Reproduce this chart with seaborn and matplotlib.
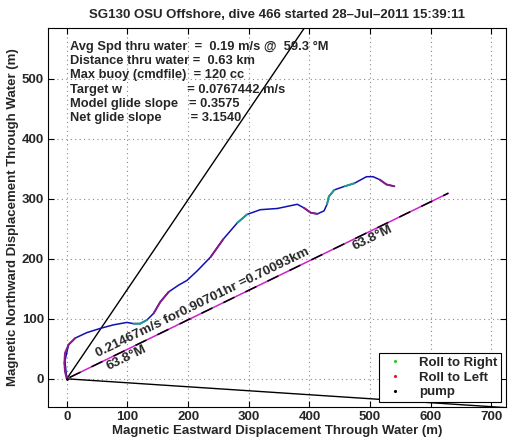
import numpy as np
import matplotlib
matplotlib.use("Agg")
import matplotlib.pyplot as plt
from matplotlib.lines import Line2D
import pandas as pd
import seaborn as sns

# dive summary
title = "SG130 OSU Offshore, dive 466 started 28\u2013Jul\u20132011 15:39:11"
info_lines = [
    "Avg Spd thru water  =  0.19 m/s @  59.3 \u00b0M",
    "Distance thru water =  0.63 km",
    "Max buoy (cmdfile)  = 120 cc",
    "Target w                  = 0.0767442 m/s",
    "Model glide slope   = 0.3575",
    "Net glide slope        = 3.1540",
]
heading_deg = 63.8
cone_half_deg = 30.0
cone_len_m = 1000.0
speed_ms = 0.21467
hours = 0.90701
dist_km = 0.70093

# track through water (m)
east = [0, -3, -4, -3, 3, 14, 33, 55, 77, 99, 110, 121, 132, 143, 154, 168, 184,
        198, 215, 237, 258, 281, 297, 319, 347, 380, 391, 402, 413, 424, 429,
        432, 441, 458, 474, 494, 505, 516, 527, 540]
north = [0, 12, 26, 43, 57, 68, 77, 84, 90, 94, 92, 92, 98, 109, 128, 145, 156,
         164, 180, 203, 233, 260, 274, 282, 284, 291, 285, 277, 275, 280, 291,
         304, 315, 321, 326, 337, 337, 332, 324, 321]
roll_right_idx = [[10, 11, 12], [21, 22], [30, 31, 32], [33, 34]]
roll_left_idx = [[0, 1, 2, 3, 4, 5], [13, 14, 15], [19, 20], [26, 27, 28], [37, 38, 39]]
pump_idx = [0]

track = pd.DataFrame({"east": east, "north": north})

sns.set_style("whitegrid")
plt.rcParams["font.family"] = ["Liberation Sans", "DejaVu Sans"]
plt.rcParams["font.weight"] = "bold"

fig = plt.figure(figsize=(5.14, 4.42), dpi=100)
ax = fig.add_axes([0.0934, 0.0792, 0.891, 0.8575])

# cone lines and heading line
for b in [heading_deg - cone_half_deg, heading_deg + cone_half_deg]:
    r = np.deg2rad(b)
    ax.plot([0, cone_len_m * np.sin(r)], [0, cone_len_m * np.cos(r)], color="black", lw=1)

r = np.deg2rad(heading_deg)
hx, hy = dist_km * 1000 * np.sin(r), dist_km * 1000 * np.cos(r)
ax.plot([0, hx], [0, hy], color="#d020d0", lw=1.1)
ax.plot([0, hx], [0, hy], color="black", lw=1.1, linestyle=(30, (8, 8)))

sns.lineplot(data=track, x="east", y="north", sort=False, ax=ax, color="#1010b0", lw=1.1)
for seg in roll_right_idx:
    ax.plot(track.east[seg], track.north[seg], color="#1a9a90", lw=1.4)
for seg in roll_left_idx:
    ax.plot(track.east[seg], track.north[seg], color="#8a1a8a", lw=1.4)
ax.plot(track.east[pump_idx], track.north[pump_idx], ".", color="black", ms=2)

# labels along the heading line
ang = np.degrees(np.arctan2(hy, hx))
ax.text(0.085 * hx, 0.085 * hy + 6, f"{speed_ms}m/s for{hours}hr ={dist_km}km",
        rotation=ang, rotation_mode="anchor", ha="left", va="bottom",
        fontsize=9.7, fontweight="bold", transform_rotates_text=True)
ax.text(0.1 * hx, 0.1 * hy - 2, f"{heading_deg}\u00b0M",
        rotation=ang, rotation_mode="anchor", ha="left", va="top",
        fontsize=9.7, fontweight="bold", transform_rotates_text=True)
ax.text(0.745 * hx, 0.745 * hy - 2, f"{heading_deg}\u00b0M",
        rotation=ang, rotation_mode="anchor", ha="left", va="top",
        fontsize=9.7, fontweight="bold", transform_rotates_text=True)

ax.text(0.048, 0.966, "\n".join(info_lines), transform=ax.transAxes, ha="left", va="top",
        fontsize=9.3, fontweight="bold", linespacing=1.25)

ax.set_xlim(-31, 724)
ax.set_ylim(-47, 585)
ax.set_xticks(range(0, 701, 100))
ax.set_yticks(range(0, 501, 100))
ax.grid(True, color="#888888", ls=(0, (1, 3)), lw=0.8)
for s in ax.spines.values():
    s.set_visible(True)
    s.set_color("black")
    s.set_linewidth(0.8)
ax.tick_params(direction="in", length=4, width=0.8, color="black", top=True, right=True,
               labelsize=9.5, pad=3, bottom=True, left=True)
for lab in ax.get_xticklabels() + ax.get_yticklabels():
    lab.set_fontweight("bold")

ax.set_title(title, fontsize=9.5, fontweight="bold", pad=7)
ax.set_xlabel("Magnetic Eastward Displacement Through Water (m)", fontsize=9.5,
              fontweight="bold", labelpad=1)
ax.set_ylabel("Magnetic Northward Displacement Through Water (m)", fontsize=9.5,
              fontweight="bold", labelpad=2)

handles = [
    Line2D([], [], ls="none", marker=".", ms=2.5, color="#20d020"),
    Line2D([], [], ls="none", marker=".", ms=2.5, color="#d02020"),
    Line2D([], [], ls="none", marker=".", ms=2.5, color="black"),
]
leg = ax.legend(handles, ["Roll to Right", "Roll to Left", "pump"], loc="lower right",
                prop={"weight": "bold", "size": 9.5}, fancybox=False, framealpha=1,
                edgecolor="black", borderaxespad=0.4, handletextpad=0.8,
                labelspacing=0.2, borderpad=0.25)
leg.get_frame().set_linewidth(0.8)

fig.savefig("out.png", dpi=100)
